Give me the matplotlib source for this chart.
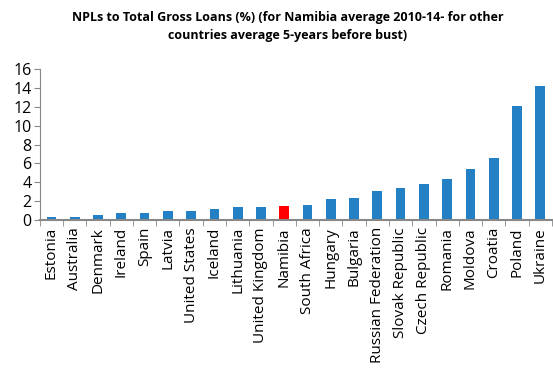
import numpy as np
import matplotlib
matplotlib.use('Agg')
from matplotlib import pyplot as plt

countries = ['Estonia', 'Australia', 'Denmark', 'Ireland', 'Spain', 'Latvia',
             'United States', 'Iceland', 'Lithuania', 'United Kingdom', 'Namibia',
             'South Africa', 'Hungary', 'Bulgaria', 'Russian Federation',
             'Slovak Republic', 'Czech Republic', 'Romania', 'Moldova',
             'Croatia', 'Poland', 'Ukraine']
npl = [0.35, 0.35, 0.5, 0.78, 0.78, 0.92, 0.92, 1.2, 1.35, 1.35, 1.5,
       1.6, 2.2, 2.35, 3.05, 3.37, 3.8, 4.36, 5.4, 6.56, 12.05, 14.25]

plt.rcParams['font.family'] = ['Open Sans', 'DejaVu Sans']

fig = plt.figure(figsize=(5.53, 3.68), dpi=100)
ax = fig.add_axes([0.072, 0.402, 0.926, 0.41])

x = np.arange(len(countries))
colors = ['#FF0000' if c == 'Namibia' else '#2480C4' for c in countries]
ax.bar(x, npl, width=0.42, color=colors)

ax.set_xlim(-0.5, len(countries) - 0.5)
ax.set_ylim(0, 16)
ax.set_yticks(range(0, 17, 2))
ax.tick_params(axis='y', labelsize=11.5, length=4, color='#888888', pad=2)

ax.set_xticks(x)
ax.set_xticklabels(countries, rotation=90, fontsize=11)
ax.tick_params(axis='x', length=0, pad=5)
ax.set_xticks(np.arange(-0.5, len(countries)), minor=True)
ax.tick_params(axis='x', which='minor', length=4, color='#888888')

for s in ['top', 'right']:
    ax.spines[s].set_visible(False)
ax.spines['left'].set_color('#888888')
ax.spines['bottom'].set_color('#888888')
ax.spines['bottom'].set_linewidth(1.5)

fig.text(0.52, 0.928, 'NPLs to Total Gross Loans (%) (for Namibia average 2010-14- for other\ncountries average 5-years before bust)',
         ha='center', va='center', fontsize=9, fontweight='bold', linespacing=1.5)

fig.savefig('out.png', dpi=100)
